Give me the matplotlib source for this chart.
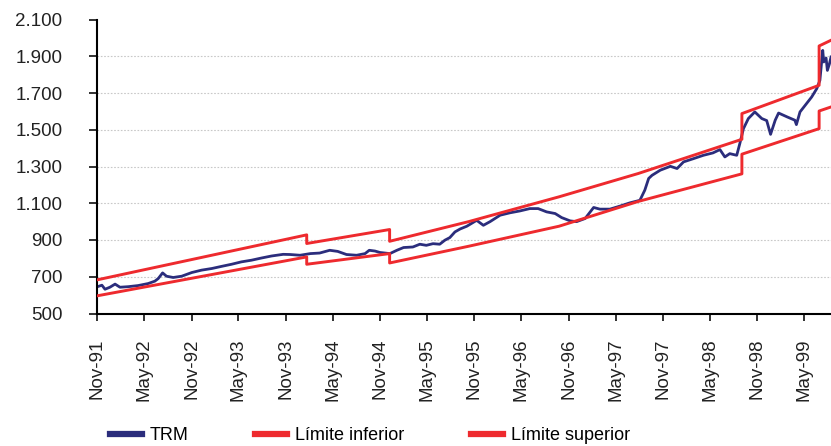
import matplotlib
matplotlib.use("Agg")
import matplotlib.pyplot as plt
from matplotlib.lines import Line2D
import pandas as pd

plt.rcParams["font.family"] = ["Liberation Sans", "DejaVu Sans"]

# TRM (tasa representativa del mercado)
trm_dates = [
    "1991-11-01", "1991-11-20", "1991-12-02", "1991-12-21", "1992-01-10",
    "1992-01-29", "1992-03-01", "1992-04-08", "1992-05-17", "1992-06-12",
    "1992-06-25", "1992-07-12", "1992-07-27", "1992-08-22", "1992-09-24",
    "1992-11-02", "1992-12-10", "1993-01-19", "1993-02-27", "1993-04-05",
    "1993-05-13", "1993-06-21", "1993-07-30", "1993-09-07", "1993-10-22",
    "1993-11-18", "1993-12-26", "1994-02-04", "1994-03-12", "1994-04-20",
    "1994-05-21", "1994-06-24", "1994-08-02", "1994-09-04", "1994-09-20",
    "1994-10-12", "1994-11-01", "1994-12-09", "1995-01-05", "1995-01-31",
    "1995-03-08", "1995-04-04", "1995-04-29", "1995-05-25", "1995-06-20",
    "1995-07-10", "1995-07-29", "1995-08-18", "1995-09-07", "1995-10-03",
    "1995-11-10", "1995-12-06", "1996-01-01", "1996-02-09", "1996-03-18",
    "1996-04-25", "1996-06-03", "1996-07-05", "1996-08-07", "1996-09-09",
    "1996-10-04", "1996-11-06", "1996-12-01", "1997-01-03", "1997-02-05",
    "1997-03-01", "1997-04-09", "1997-05-17", "1997-06-25", "1997-08-03",
    "1997-08-22", "1997-09-06", "1997-09-19", "1997-10-21", "1997-11-29",
    "1997-12-25", "1998-01-19", "1998-02-27", "1998-04-06", "1998-05-13",
    "1998-06-09", "1998-06-28", "1998-07-17", "1998-08-13", "1998-08-25",
    "1998-09-08", "1998-09-27", "1998-10-22", "1998-11-18", "1998-12-07",
    "1998-12-22", "1999-01-09", "1999-01-22", "1999-02-24", "1999-03-26",
    "1999-04-01", "1999-04-15", "1999-05-10", "1999-05-30", "1999-06-19",
    "1999-07-01", "1999-07-12", "1999-07-16", "1999-07-25", "1999-07-30",
    "1999-08-07", "1999-08-13",
]
trm_values = [
    645, 654, 632, 643, 660,
    643, 646, 652, 663, 676,
    690, 721, 703, 696, 703,
    723, 736, 745, 757, 768,
    781, 790, 802, 813, 822,
    821, 817, 826, 829, 844,
    838, 821, 817, 826, 844,
    840, 832, 826, 844, 859,
    862, 877, 871, 880, 877,
    899, 913, 944, 960, 975,
    1007, 980, 1000, 1035, 1048,
    1058, 1071, 1071, 1053, 1044,
    1022, 1004, 1000, 1017, 1077,
    1068, 1068, 1084, 1102, 1116,
    1171, 1235, 1252, 1280, 1301,
    1289, 1325, 1343, 1361, 1374,
    1392, 1352, 1370, 1361, 1425,
    1506, 1561, 1597, 1561, 1550,
    1475, 1552, 1591, 1570, 1552,
    1528, 1597, 1642, 1678, 1724,
    1769, 1932, 1869, 1890, 1823,
    1859, 1896,
]

# exchange-rate band (repeated dates mark the band shifts)
band_dates = [
    "1991-11-01", "1994-01-21", "1994-01-21", "1994-12-08", "1994-12-08",
    "1995-10-10", "1996-09-24", "1997-07-28", "1998-09-02", "1998-09-02",
    "1999-06-28", "1999-06-28", "1999-08-13",
]
limite_superior = [683, 928, 881, 957, 893, 1000, 1135, 1262, 1448, 1588, 1742, 1956, 1987]
limite_inferior = [596, 808, 768, 826, 775, 866, 975, 1110, 1260, 1367, 1506, 1602, 1624]

x_ticks = [
    "1991-11-01", "1992-05-01", "1992-11-01", "1993-05-01", "1993-11-01",
    "1994-05-01", "1994-11-01", "1995-05-01", "1995-11-01", "1996-05-01",
    "1996-11-01", "1997-05-01", "1997-11-01", "1998-05-01", "1998-11-01",
    "1999-05-01",
]
x_tick_labels = [
    "Nov-91", "May-92", "Nov-92", "May-93", "Nov-93", "May-94", "Nov-94",
    "May-95", "Nov-95", "May-96", "Nov-96", "May-97", "Nov-97", "May-98",
    "Nov-98", "May-99",
]
y_ticks = [500, 700, 900, 1100, 1300, 1500, 1700, 1900, 2100]
y_tick_labels = ["500", "700", "900", "1.100", "1.300", "1.500", "1.700", "1.900", "2.100"]

NAVY = "#2b2d7c"
RED = "#ee2a2e"

W, H = 831, 446
fig = plt.figure(figsize=(W / 100, H / 100), dpi=100)
ax = fig.add_axes([97 / W, 1 - 313.5 / H, 1 - 97 / W, (313.5 - 19.5) / H])

for v in y_ticks[1:-1]:
    ax.axhline(v, color="#c8c8c8", lw=0.8, ls=(0, (1.5, 1.5)), zorder=0)

ax.plot(pd.to_datetime(trm_dates), trm_values, color=NAVY, lw=2.0, zorder=2)
ax.plot(pd.to_datetime(band_dates), limite_inferior, color=RED, lw=2.1, zorder=3)
ax.plot(pd.to_datetime(band_dates), limite_superior, color=RED, lw=2.1, zorder=3)

ax.set_xlim(pd.Timestamp("1991-11-01"), pd.Timestamp("1999-08-13"))
ax.set_ylim(500, 2100)
ax.set_yticks(y_ticks, y_tick_labels)
ax.set_xticks(pd.to_datetime(x_ticks), x_tick_labels, rotation=90)

for side in ("top", "right"):
    ax.spines[side].set_visible(False)
for side in ("left", "bottom"):
    ax.spines[side].set_linewidth(1.5)
ax.tick_params(axis="y", length=6, width=1.3, pad=19, labelsize=13.5, colors="#222222")
ax.tick_params(axis="x", length=5, width=1.3, pad=13, labelsize=13.5, colors="#222222")

handles = [
    Line2D([], [], color=NAVY, lw=4.5),
    Line2D([], [], color=RED, lw=4.5),
    Line2D([], [], color=RED, lw=4.5),
]
fig.legend(
    handles, ["TRM", "Límite inferior", "Límite superior"],
    loc="center left", bbox_to_anchor=(110 / W, 1 - 436 / H),
    ncol=3, frameon=False, borderpad=0, borderaxespad=0,
    handlelength=1.75, handletextpad=0.45, columnspacing=3.7, fontsize=13,
)

fig.savefig("out.png", dpi=100)
